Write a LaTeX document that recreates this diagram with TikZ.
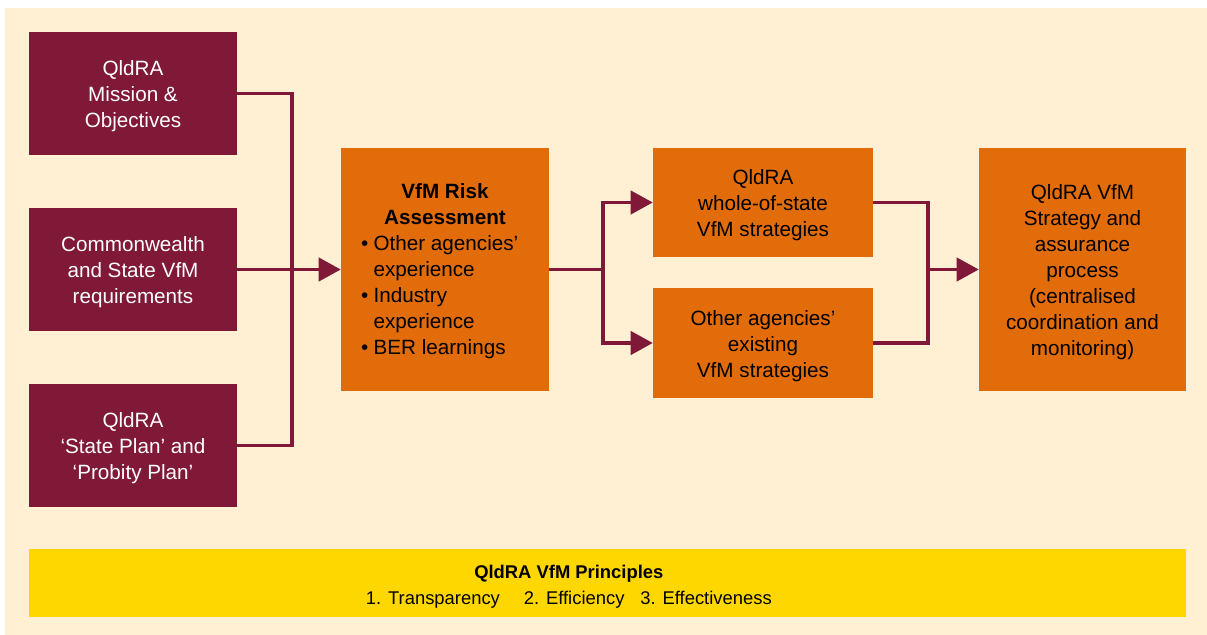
\documentclass[tikz,border=0pt]{standalone}
\usepackage{fontspec}
\setmainfont{Liberation Sans}
\usepackage{tikz}
\usetikzlibrary{arrows.meta, positioning, calc}

\definecolor{qmaroon}{RGB}{128,25,56}
\definecolor{qorange}{RGB}{227,108,10}
\definecolor{qyellow}{RGB}{255,215,0}
\definecolor{qcream}{RGB}{255,240,212}

% taller first line so the text block sits a little lower in its box
\newcommand{\toproom}{\rule{0pt}{15.7pt}}

\tikzset{
  inputbox/.style={
    rectangle, inner sep=0pt, minimum width=156pt, minimum height=92.25pt,
    fill=qmaroon, text=white, align=center,
    font=\fontsize{15.5}{19.5}\selectfont
  },
  stagebox/.style={
    rectangle, inner sep=0pt, fill=qorange, text=black, align=center,
    font=\fontsize{15.5}{19.5}\selectfont
  },
  bandbox/.style={
    rectangle, inner sep=0pt, minimum width=867.75pt, minimum height=51pt,
    fill=qyellow
  },
  bandtext/.style={
    inner sep=0pt, text=black, align=center,
    font=\fontsize{13.8}{20}\selectfont
  },
  link/.style={line width=2.4pt, color=qmaroon},
  linkarrow/.style={link, -{Triangle[length=16.5pt, width=17.5pt]}}
}

\begin{document}
\begin{tikzpicture}[x=0.75pt, y=-0.75pt]
  \useasboundingbox (0,0) rectangle (1207,635);
  \fill[qcream] (5,8) rectangle (1207,635);

  % ── Inputs ───────────────────────────────────────────────────────
  \node[inputbox] (mission) at (133,93.5)
    {\toproom QldRA\\Mission \&\\Objectives};
  \node[inputbox] (reqs)    at (133,269.5)
    {\toproom Commonwealth\\and State VfM\\requirements};
  \node[inputbox] (plans)   at (133,445.5)
    {\toproom QldRA\\`State Plan' and\\`Probity Plan'};

  % ── Risk assessment ──────────────────────────────────────────────
  \node[stagebox, minimum width=156pt, minimum height=182.25pt] (risk)
    at (445,269.5) {\toproom\textbf{VfM Risk}\\\textbf{Assessment}\\
    \begin{tabular}[t]{@{}l@{\hspace{4pt}}l@{}}
      \textbullet & Other agencies'\\
                  & experience\\
      \textbullet & Industry\\
                  & experience\\
      \textbullet & BER learnings
    \end{tabular}\hspace*{8pt}};

  % ── Strategies ───────────────────────────────────────────────────
  \node[stagebox, minimum width=165pt, minimum height=81.75pt] (wos)
    at (763,202.5) {\toproom QldRA\\whole-of-state\\VfM strategies};
  \node[stagebox, minimum width=165pt, minimum height=82.5pt] (agencies)
    at (763,343) {\toproom Other agencies'\\existing\\VfM strategies};

  % ── Outcome ──────────────────────────────────────────────────────
  \node[stagebox, minimum width=155.25pt, minimum height=182.25pt] (strategy)
    at (1082.5,269.5) {\toproom QldRA VfM\\Strategy and\\assurance\\process\\(centralised\\coordination and\\monitoring)};

  % ── Principles band ──────────────────────────────────────────────
  \node[bandbox] (principles) at (607.5,583) {};
  \node[bandtext] (principleslist) at ([xshift=-29pt]principles.center)
    {\toproom\textbf{QldRA VfM Principles}\\1. Transparency\hspace{18pt}2. Efficiency\hspace{12pt}3. Effectiveness};

  % ── Connections ──────────────────────────────────────────────────
  \coordinate (join)  at (292,269.5);
  \coordinate (fork)  at (603,269.5);
  \coordinate (merge) at (928,269.5);

  \draw[link] (mission.east) -| (join);
  \draw[link] (plans.east)   -| (join);
  \draw[linkarrow] (reqs.east) -- (risk.west);

  \draw[link] (risk.east) -- (fork);
  \draw[linkarrow] (fork) |- (wos.west);
  \draw[linkarrow] (fork) |- (agencies.west);

  \draw[link] (wos.east)      -| (merge);
  \draw[link] (agencies.east) -| (merge);
  \draw[linkarrow] (merge) -- (strategy.west);
\end{tikzpicture}
\end{document}
